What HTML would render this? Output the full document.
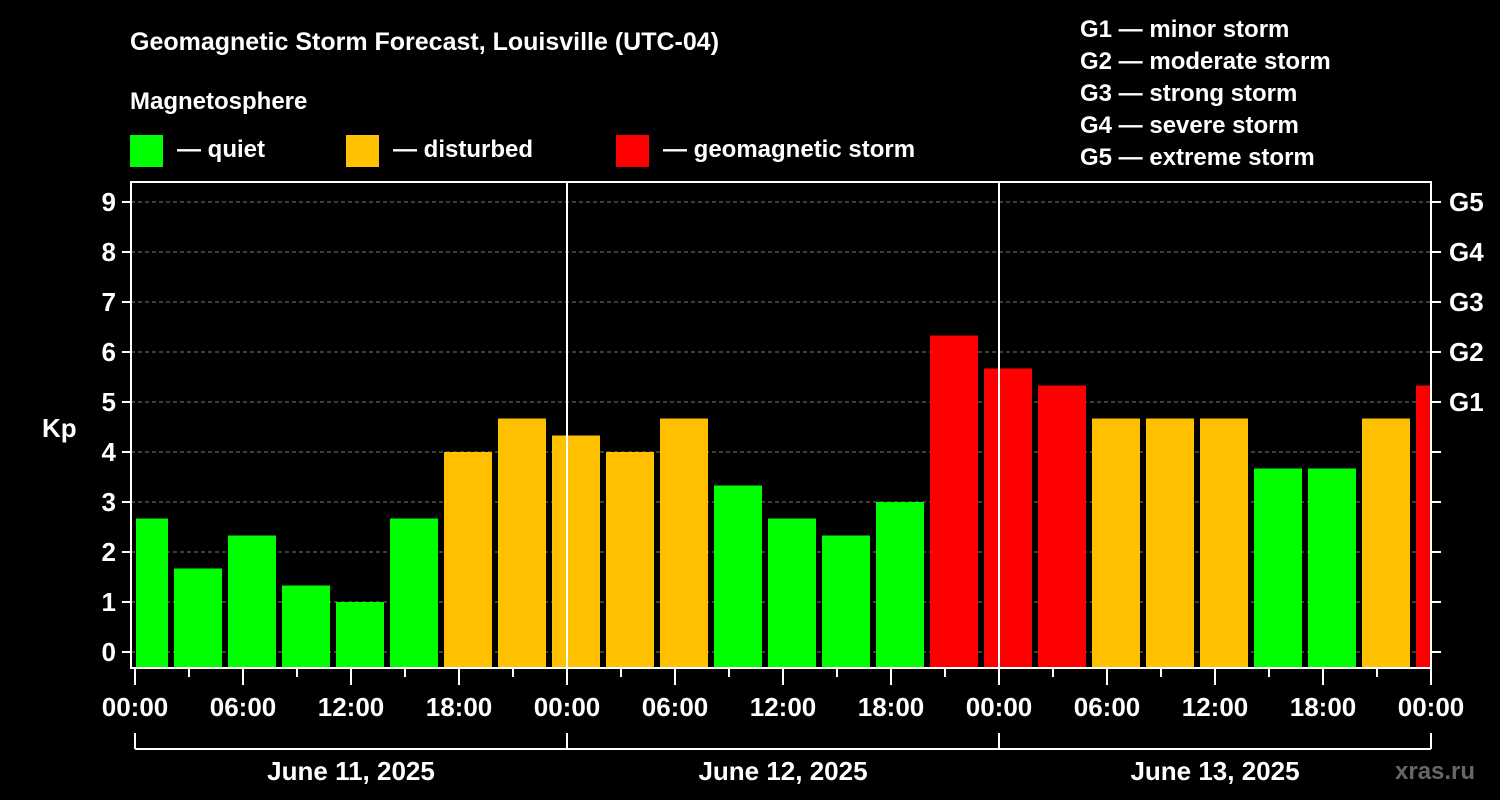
<!DOCTYPE html>
<html><head><meta charset="utf-8"><style>
body{margin:0;background:#000;}
svg{display:block;font-family:"Liberation Sans",sans-serif;font-weight:bold;}
</style></head><body>
<svg id="chart" width="1500" height="800" viewBox="0 0 1500 800">
<rect width="1500" height="800" fill="#000"/>
<text x="130" y="50" fill="#fff" font-size="25">Geomagnetic Storm Forecast, Louisville (UTC-04)</text>
<text x="130" y="109" fill="#fff" font-size="24">Magnetosphere</text>
<g><rect x="130" y="135" width="33" height="32" fill="#00ff00"/><text x="177" y="157" fill="#fff" font-size="24">— quiet</text></g>
<g><rect x="346" y="135" width="33" height="32" fill="#ffc000"/><text x="393" y="157" fill="#fff" font-size="24">— disturbed</text></g>
<g><rect x="616" y="135" width="33" height="32" fill="#ff0000"/><text x="663" y="157" fill="#fff" font-size="24">— geomagnetic storm</text></g>
<g fill="#fff" font-size="24">
<text x="1080" y="37">G1 — minor storm</text>
<text x="1080" y="69">G2 — moderate storm</text>
<text x="1080" y="101">G3 — strong storm</text>
<text x="1080" y="133">G4 — severe storm</text>
<text x="1080" y="165">G5 — extreme storm</text>
</g>
<text x="42" y="437" fill="#fff" font-size="26">Kp</text>
<g id="grid"></g>
<g id="bars"></g>
<g id="axes"></g>
<text x="1395" y="779" fill="#666" font-size="24">xras.ru</text>
</svg>
<script>
const kpValues=[2.67,1.67,2.33,1.33,1.0,2.67,4.0,4.67,4.33,4.0,4.67,3.33,2.67,2.33,3.0,6.33,5.67,5.33,4.67,4.67,4.67,3.67,3.67,4.67,5.33];
const blockStartHours=[-1,2,5,8,11,14,17,20,23,26,29,32,35,38,41,44,47,50,53,56,59,62,65,68,71];
const yTicks=[0,1,2,3,4,5,6,7,8,9];
const gLabels=["G1","G2","G3","G4","G5"];
const gLevels=[5,6,7,8,9];
const xTickLabels=["00:00","06:00","12:00","18:00","00:00","06:00","12:00","18:00","00:00","06:00","12:00","18:00","00:00"];
const dayLabels=["June 11, 2025","June 12, 2025","June 13, 2025"];
const NS="http://www.w3.org/2000/svg";
const L=131,R=1431,T=182,B=668;
const x=h=>135+h*18;
const y=v=>652-v*50;
function mk(tag,attrs,parent){const e=document.createElementNS(NS,tag);for(const k in attrs)e.setAttribute(k,attrs[k]);parent.appendChild(e);return e;}
const grid=document.getElementById('grid'),bars=document.getElementById('bars'),axes=document.getElementById('axes');
yTicks.forEach(v=>{const l=mk('line',{x1:L,x2:R,y1:y(v),y2:y(v),stroke:'#777','stroke-dasharray':'4,3','stroke-width':1},grid);

});
kpValues.forEach((v,i)=>{const c=blockStartHours[i]+1.5;let x0=x(c)-24,x1=x(c)+24;x0=Math.max(x0,136);x1=Math.min(x1,R);
const col=v>=5?'#ff0000':(v>=4?'#ffc000':'#00ff00');
const r=mk('rect',{x:x0,y:y(v),width:x1-x0,height:667-y(v),fill:col},bars);

});
// frame
const f=mk('rect',{x:L,y:T,width:R-L,height:B-T,fill:'none',stroke:'#fff','stroke-width':2},axes);


[24,48].forEach(h=>{const l=mk('line',{x1:x(h),x2:x(h),y1:T,y2:B,stroke:'#fff','stroke-width':2},axes);

});
yTicks.forEach(v=>{mk('line',{x1:122,x2:L,y1:y(v),y2:y(v),stroke:'#fff','stroke-width':2},axes);
mk('line',{x1:R,x2:1441,y1:y(v),y2:y(v),stroke:'#fff','stroke-width':2},axes);
const t=mk('text',{x:116,y:y(v)+9,fill:'#fff','font-size':26,'text-anchor':'end'},axes);t.textContent=v;

});
gLevels.forEach((v,i)=>{const t=mk('text',{x:1449,y:y(v)+9,fill:'#fff','font-size':26},axes);t.textContent=gLabels[i];

});
for(let h=0;h<=72;h+=3){const big=h%6===0;mk('line',{x1:x(h),x2:x(h),y1:B,y2:big?685:677,stroke:'#fff','stroke-width':2},axes);}
xTickLabels.forEach((s,i)=>{const t=mk('text',{x:x(i*6),y:716,fill:'#fff','font-size':26,'text-anchor':'middle'},axes);t.textContent=s;

});
mk('line',{x1:x(0),x2:x(72),y1:749,y2:749,stroke:'#fff','stroke-width':2},axes);
[0,24,48,72].forEach(h=>mk('line',{x1:x(h),x2:x(h),y1:733,y2:749,stroke:'#fff','stroke-width':2},axes));
dayLabels.forEach((s,i)=>{const t=mk('text',{x:x(i*24+12),y:780,fill:'#fff','font-size':26,'text-anchor':'middle'},axes);t.textContent=s;

});
</script>
</body></html>
